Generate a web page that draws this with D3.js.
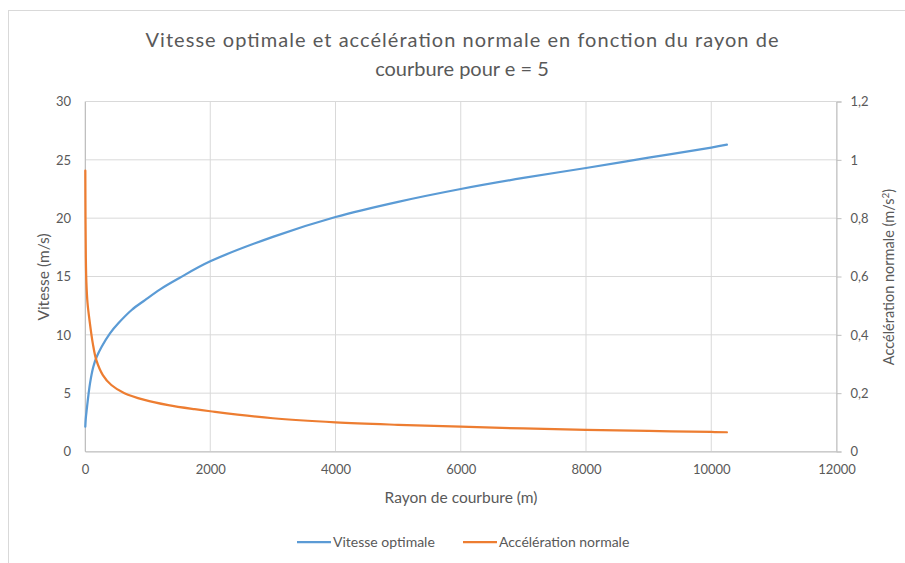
<!DOCTYPE html>
<html><head><meta charset="utf-8">
<script src="https://cdn.jsdelivr.net/npm/d3@7/dist/d3.min.js"></script>
<style>body{margin:0;background:#fff;} text{font-family:Lato, "Open Sans", sans-serif;}</style>
</head><body>
<svg id="c" width="905" height="563"></svg>
<script>
// Data
const rayonVitesse = [5, 12, 27, 80, 133, 187, 266, 399, 532, 745, 958, 1200, 1500, 2000, 3000, 4000, 5000, 6000, 7000, 8000, 9000, 10000, 10250];
const vitesse      = [2.13, 2.8, 3.56, 5.84, 7.27, 8.12, 8.98, 10.13, 10.99, 12.13, 12.98, 13.9, 14.85, 16.3, 18.4, 20.1, 21.4, 22.5, 23.45, 24.3, 25.18, 26.05, 26.3];
const rayonAccel   = [5, 8, 13, 22, 40, 72, 125, 180, 285, 420, 630, 950, 1330, 1750, 2000, 3000, 4000, 5000, 6000, 7000, 8000, 9000, 10000, 10250];
const acceleration = [0.963, 0.80, 0.67, 0.58, 0.51, 0.45, 0.37, 0.314, 0.262, 0.228, 0.200, 0.177, 0.159, 0.145, 0.138, 0.114, 0.100, 0.0915, 0.085, 0.079, 0.0745, 0.0705, 0.067, 0.066];
const xTicks = [0, 2000, 4000, 6000, 8000, 10000, 12000];
const yLeftTicks = [0, 5, 10, 15, 20, 25, 30];
const yRightTicks = [0, 0.2, 0.4, 0.6, 0.8, 1, 1.2];
const titleLines = ["Vitesse optimale et accélération normale en fonction du rayon de", "courbure pour e = 5"];
const seriesNames = ["Vitesse optimale", "Accélération normale"];
const colors = ["#5B9BD5", "#ED7D31"];

const svg = d3.select("#c");
const L = 85, R = 836.5, T = 101.5, B = 451.5;
const x = d3.scaleLinear().domain([0, 12000]).range([L, R]);
const yL = d3.scaleLinear().domain([0, 30]).range([B, T]);
const yR = d3.scaleLinear().domain([0, 1.2]).range([B, T]);
const txt = "#595959";

// chart border
svg.append("rect").attr("x", 8.5).attr("y", 10.5).attr("width", 905).attr("height", 560)
  .attr("fill", "none").attr("stroke", "#d9d9d9");

// grid
const g = svg.append("g");
g.selectAll(".gx").data(xTicks).join("line")
  .attr("x1", d => x(d)).attr("x2", d => x(d)).attr("y1", T).attr("y2", B)
  .attr("stroke", "#d9d9d9").attr("stroke-width", 1);
g.selectAll(".gy").data(yLeftTicks).join("line")
  .attr("x1", L).attr("x2", R).attr("y1", d => yL(d)).attr("y2", d => yL(d))
  .attr("stroke", "#d9d9d9").attr("stroke-width", 1);

// axes
const fmtFr = d => String(d).replace(".", ",");
const ax = svg.append("g").attr("transform", `translate(0,${B})`)
  .call(d3.axisBottom(x).tickValues(xTicks).tickSize(0).tickPadding(13).tickFormat(d => d));
const ayl = svg.append("g").attr("transform", `translate(${L},0)`)
  .call(d3.axisLeft(yL).tickValues(yLeftTicks).tickSize(0).tickPadding(14));
const ayr = svg.append("g").attr("transform", `translate(${R},0)`)
  .call(d3.axisRight(yR).tickValues(yRightTicks).tickSize(5).tickPadding(9).tickFormat(fmtFr));
[ax, ayl, ayr].forEach(a => {
  a.select(".domain").attr("stroke", "#bfbfbf");
  a.selectAll(".tick line").attr("stroke", "#bfbfbf");
  a.selectAll("text").attr("fill", txt).style("font-size", "13px").style("font-family", "Lato, sans-serif");
});

// lines
const curve = d3.curveCatmullRom.alpha(0.5);
const lineV = d3.line().x((d, i) => x(rayonVitesse[i])).y(d => yL(d)).curve(curve);
const lineA = d3.line().x((d, i) => x(rayonAccel[i])).y(d => yR(d)).curve(curve);
svg.append("path").attr("d", lineV(vitesse)).attr("fill", "none").attr("stroke", colors[0]).attr("stroke-width", 2.25).attr("stroke-linecap", "round");
svg.append("path").attr("d", lineA(acceleration)).attr("fill", "none").attr("stroke", colors[1]).attr("stroke-width", 2.25).attr("stroke-linecap", "round");

// titles
svg.selectAll(".title").data(titleLines).join("text")
  .attr("x", 462).attr("y", (d, i) => 47 + i * 29).attr("text-anchor", "middle")
  .attr("fill", txt).style("font-size", "20px")
  .attr("textLength", (d, i) => i === 0 ? 633 : null).attr("lengthAdjust", "spacing")
  .text(d => d);
svg.append("text").attr("x", 461).attr("y", 503).attr("text-anchor", "middle")
  .attr("fill", txt).style("font-size", "15.5px").text("Rayon de courbure (m)");
svg.append("text").attr("transform", "translate(49,277) rotate(-90)").attr("text-anchor", "middle")
  .attr("fill", txt).style("font-size", "15.5px").text("Vitesse (m/s)");
const rt = svg.append("text").attr("transform", "translate(894,277) rotate(-90)").attr("text-anchor", "middle")
  .attr("fill", txt).style("font-size", "14.5px");
rt.append("tspan").text("Accélération normale (m/s");
rt.append("tspan").attr("dy", -5).style("font-size", "10px").text("2");
rt.append("tspan").attr("dy", 5).text(")");

// legend
const leg = svg.append("g");
const legX = [297, 463];
seriesNames.forEach((n, i) => {
  leg.append("line").attr("x1", legX[i]).attr("x2", legX[i] + 34).attr("y1", 542).attr("y2", 542)
    .attr("stroke", colors[i]).attr("stroke-width", 2.25);
  leg.append("text").attr("x", legX[i] + 36).attr("y", 547).attr("fill", txt)
    .style("font-size", "14px").text(n);
});
</script>
</body></html>
